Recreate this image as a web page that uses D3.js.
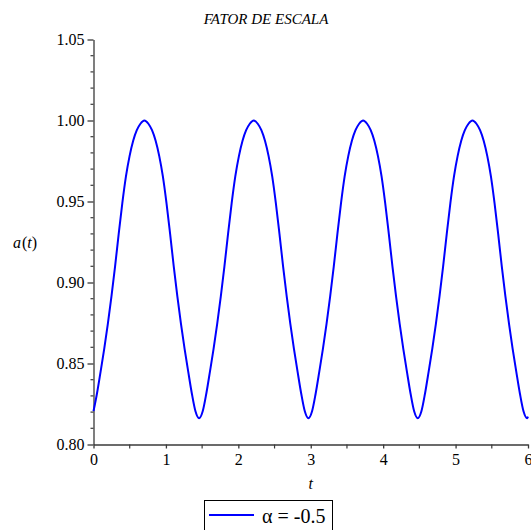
<!DOCTYPE html>
<html><head><meta charset="utf-8">
<script src="https://cdn.jsdelivr.net/npm/d3@7"></script>
</head>
<body style="margin:0">
<script>
const title = "FATOR DE ESCALA";
const legendLabel = "α = -0.5";
const xTicks = [0, 1, 2, 3, 4, 5, 6];
const yTicks = [0.80, 0.85, 0.90, 0.95, 1.00, 1.05];
const tValues = [
  0.000,0.048,0.098,0.148,0.198,0.248,0.298,0.348,0.398,0.448,0.498,0.548,0.598,0.648,0.703,
  0.758,0.808,0.858,0.908,0.958,1.008,1.058,1.108,1.158,1.208,1.258,1.308,1.358,1.408,1.458,
  1.508,1.558,1.608,1.658,1.708,1.758,1.808,1.858,1.908,1.958,2.008,2.058,2.108,2.158,2.213,
  2.268,2.318,2.368,2.418,2.468,2.518,2.568,2.618,2.668,2.718,2.768,2.818,2.868,2.918,2.968,
  3.018,3.068,3.118,3.168,3.218,3.268,3.318,3.368,3.418,3.468,3.518,3.568,3.618,3.668,3.723,
  3.778,3.828,3.878,3.928,3.978,4.028,4.078,4.128,4.178,4.228,4.278,4.328,4.378,4.428,4.478,
  4.528,4.578,4.628,4.678,4.728,4.778,4.828,4.878,4.928,4.978,5.028,5.078,5.128,5.178,5.233,
  5.288,5.338,5.388,5.438,5.488,5.538,5.588,5.638,5.688,5.738,5.788,5.838,5.888,5.938,5.988,
  6.000
];
const aValues = [
  0.8206,0.8315,0.845,0.859,0.8745,0.8915,0.910,0.930,0.949,0.9655,0.978,0.9875,0.994,0.998,1.000,
  0.998,0.994,0.9875,0.978,0.9655,0.949,0.930,0.910,0.8915,0.8745,0.859,0.845,0.8315,0.8205,0.8162,
  0.8205,0.8315,0.845,0.859,0.8745,0.8915,0.910,0.930,0.949,0.9655,0.978,0.9875,0.994,0.998,1.000,
  0.998,0.994,0.9875,0.978,0.9655,0.949,0.930,0.910,0.8915,0.8745,0.859,0.845,0.8315,0.8205,0.8162,
  0.8205,0.8315,0.845,0.859,0.8745,0.8915,0.910,0.930,0.949,0.9655,0.978,0.9875,0.994,0.998,1.000,
  0.998,0.994,0.9875,0.978,0.9655,0.949,0.930,0.910,0.8915,0.8745,0.859,0.845,0.8315,0.8205,0.8162,
  0.8205,0.8315,0.845,0.859,0.8745,0.8915,0.910,0.930,0.949,0.9655,0.978,0.9875,0.994,0.998,1.000,
  0.998,0.994,0.9875,0.978,0.9655,0.949,0.930,0.910,0.8915,0.8745,0.859,0.845,0.8315,0.8205,0.8162,
  0.8172
];

const W = 531, H = 530;
const FONT = "'Liberation Serif'";
const svg = d3.select("body").append("svg").attr("width", W).attr("height", H)
  .style("display", "block");

const x = d3.scaleLinear().domain([0, 6]).range([93.5, 528]);
const y = d3.scaleLinear().domain([0.80, 1.05]).range([444.5, 39.5]);
const axisColor = "#3a3a3a";

// title
svg.append("text").attr("x", 266).attr("y", 24).attr("text-anchor", "middle")
  .attr("font-family", FONT).attr("font-style", "italic").attr("font-size", 15).text(title);

// y axis
const yMinor = d3.range(80, 106).map(v => v / 100).filter(v => !yTicks.some(t => Math.abs(t - v) < 1e-9));
const gy = svg.append("g").attr("transform", `translate(${x(0)},0)`);
gy.call(d3.axisLeft(y).tickValues(yTicks).tickFormat(d3.format(".2f")).tickSize(6).tickSizeOuter(0).tickPadding(3));
gy.attr("font-family", FONT).attr("font-size", 16);
gy.selectAll("text").attr("font-family", FONT).attr("font-size", 16).attr("fill", "#000").attr("dy", "0.32em");
gy.selectAll("path,line").attr("stroke", axisColor).attr("stroke-width", 1.3);
gy.selectAll(".minor").data(yMinor).enter().append("line").attr("class", "minor")
  .attr("x1", -3).attr("x2", 0).attr("y1", d => y(d)).attr("y2", d => y(d))
  .attr("stroke", axisColor).attr("stroke-width", 1.2);

// x axis
const xMinor = [0.5, 1.5, 2.5, 3.5, 4.5, 5.5];
const gx = svg.append("g").attr("transform", `translate(0,${y(0.80)})`);
gx.call(d3.axisBottom(x).tickValues(xTicks).tickFormat(d3.format("d")).tickSize(4).tickSizeOuter(0).tickPadding(5));
gx.attr("font-family", FONT).attr("font-size", 16);
gx.selectAll("text").attr("font-family", FONT).attr("font-size", 16).attr("fill", "#000");
gx.selectAll("path,line").attr("stroke", axisColor).attr("stroke-width", 1.3);
gx.selectAll(".minor").data(xMinor).enter().append("line").attr("class", "minor")
  .attr("x1", d => x(d)).attr("x2", d => x(d)).attr("y1", 0).attr("y2", 4)
  .attr("stroke", axisColor).attr("stroke-width", 1.2);

// axis labels
svg.append("text").attr("x", x(3)).attr("y", 489).attr("text-anchor", "middle")
  .attr("font-family", FONT).attr("font-style", "italic").attr("font-size", 16).text("t");
const yl = svg.append("text").attr("x", 13).attr("y", 248)
  .attr("font-family", FONT).attr("font-size", 16);
yl.append("tspan").attr("font-style", "italic").text("a");
yl.append("tspan").attr("dx", 1).text("(");
yl.append("tspan").attr("font-style", "italic").text("t");
yl.append("tspan").text(")");

// curve
const data = tValues.map((t, i) => ({ t, a: aValues[i] }));
svg.append("path").datum(data)
  .attr("fill", "none").attr("stroke", "#0000ff").attr("stroke-width", 2)
  .attr("d", d3.line().x(d => x(d.t)).y(d => y(d.a)).curve(d3.curveMonotoneX));

// legend
const lg = svg.append("g");
lg.append("rect").attr("x", 204.5).attr("y", 500.5).attr("width", 128).attr("height", 40)
  .attr("fill", "#fff").attr("stroke", "#000").attr("stroke-width", 1);
lg.append("line").attr("x1", 209).attr("x2", 254).attr("y1", 515).attr("y2", 515)
  .attr("stroke", "#0000ff").attr("stroke-width", 2);
lg.append("text").attr("x", 262).attr("y", 523)
  .attr("font-family", FONT).attr("font-size", 20).text(legendLabel);
</script>
</body></html>
